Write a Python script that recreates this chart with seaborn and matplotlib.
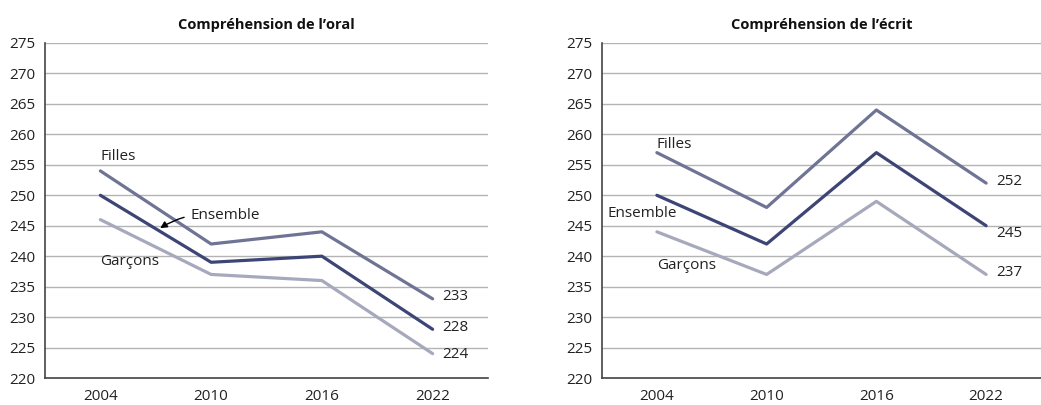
import pandas as pd
import seaborn as sns
import matplotlib.pyplot as plt

# ======================= Data =======================
years = ["2004", "2010", "2016", "2022"]
groups = ["Filles", "Ensemble", "Garçons"]

oral_filles = [254, 242, 244, 233]
oral_ensemble = [250, 239, 240, 228]
oral_garcons = [246, 237, 236, 224]

ecrit_filles = [257, 248, 264, 252]
ecrit_ensemble = [250, 242, 257, 245]
ecrit_garcons = [244, 237, 249, 237]

titles = ["Compréhension de l’oral", "Compréhension de l’écrit"]
y_ticks = [220, 225, 230, 235, 240, 245, 250, 255, 260, 265, 270, 275]

colors = {"Filles": "#6f7494", "Ensemble": "#3c4576", "Garçons": "#a6a9bb"}


def to_long(filles, ensemble, garcons):
    rows = []
    for g, vals in zip(groups, [filles, ensemble, garcons]):
        for y, v in zip(years, vals):
            rows.append({"Année": y, "Groupe": g, "Score": v})
    return pd.DataFrame(rows)


df_oral = to_long(oral_filles, oral_ensemble, oral_garcons)
df_ecrit = to_long(ecrit_filles, ecrit_ensemble, ecrit_garcons)

# ======================= Style =======================
sns.set_theme(style="white")
plt.rcParams["font.family"] = ["Open Sans", "DejaVu Sans"]

FS = 11

fig = plt.figure(figsize=(10.41, 4.05), dpi=100)
W, H = 1041, 405
ax1 = fig.add_axes([45 / W, (H - 378) / H, (488 - 45) / W, (378 - 43) / H])
ax2 = fig.add_axes([602 / W, (H - 378) / H, (1041 - 602) / W, (378 - 43) / H])


def style_axis(ax, df, title):
    sns.lineplot(data=df, x="Année", y="Score", hue="Groupe", palette=colors,
                 linewidth=2.3, ax=ax, legend=False, sort=False)
    ax.set_xlim(-0.5, 3.5)
    ax.set_ylim(220, 275)
    ax.set_yticks(y_ticks)
    ax.yaxis.grid(True, color="#b4b4b4", linewidth=1)
    ax.set_axisbelow(True)
    ax.set_xticks(range(len(years)))
    ax.set_xticklabels(years)
    ax.set_xticks([-0.5, 0.5, 1.5, 2.5, 3.5], minor=True)
    ax.tick_params(axis="x", which="major", length=0, pad=8, labelsize=FS, colors="#222222")
    ax.tick_params(axis="x", which="minor", length=7, width=1.2, color="#444444", direction="out")
    ax.tick_params(axis="y", length=0, pad=7, labelsize=FS, colors="#222222")
    for s in ["top", "right"]:
        ax.spines[s].set_visible(False)
    ax.spines["left"].set_color("#444444")
    ax.spines["left"].set_linewidth(1.2)
    ax.spines["bottom"].set_color("#444444")
    ax.spines["bottom"].set_linewidth(1.2)
    ax.set_xlabel("")
    ax.set_ylabel("")
    ax.set_title(title, fontsize=10.5, fontweight="bold", pad=10, color="#111111")


style_axis(ax1, df_oral, titles[0])
style_axis(ax2, df_ecrit, titles[1])

txt = dict(fontsize=FS, color="#222222")

# left chart labels
ax1.text(0.0, 256.3, "Filles", ha="left", va="center", **txt)
ax1.text(0.0, 239.1, "Garçons", ha="left", va="center", **txt)
ax1.annotate("Ensemble", xy=(0.54, 244.6), xytext=(0.81, 246.6), ha="left", va="center",
             arrowprops=dict(arrowstyle="-|>", color="black", lw=1,
                             connectionstyle="arc3,rad=0.2", mutation_scale=10,
                             shrinkA=2, shrinkB=0), **txt)
ax1.text(3.09, 233.4, str(oral_filles[-1]), ha="left", va="center", **txt)
ax1.text(3.09, 228.3, str(oral_ensemble[-1]), ha="left", va="center", **txt)
ax1.text(3.09, 223.9, str(oral_garcons[-1]), ha="left", va="center", **txt)

# right chart labels
ax2.text(0.0, 258.4, "Filles", ha="left", va="center", **txt)
ax2.text(-0.45, 247.0, "Ensemble", ha="left", va="center", **txt)
ax2.text(0.0, 238.5, "Garçons", ha="left", va="center", **txt)
ax2.text(3.09, 252.3, str(ecrit_filles[-1]), ha="left", va="center", **txt)
ax2.text(3.09, 243.8, str(ecrit_ensemble[-1]), ha="left", va="center", **txt)
ax2.text(3.09, 237.3, str(ecrit_garcons[-1]), ha="left", va="center", **txt)

fig.savefig("out.png", dpi=100, facecolor="white")
